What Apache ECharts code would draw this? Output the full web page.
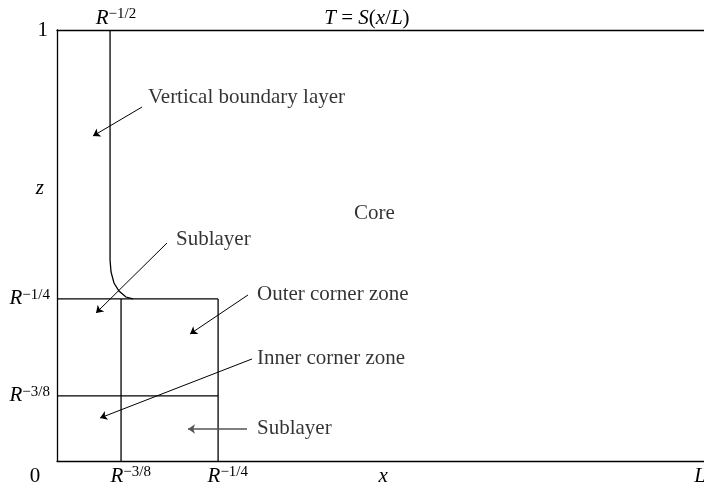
<!DOCTYPE html>
<html>
<head>
<meta charset="utf-8">
<title>Corner zones</title>
<script src="https://cdn.jsdelivr.net/npm/echarts@6.0.0/dist/echarts.min.js"></script>
<style>
  html, body { margin: 0; padding: 0; background: #fff; }
  #chart { width: 704px; height: 492px; }
</style>
</head>
<body>
<div id="chart"></div>
<script>
// x in units of L, z in units of the height (0..1)
const xR38 = 0.099;   // R^-3/8
const xR14 = 0.249;   // R^-1/4
const zR14 = 0.376;
const zR38 = 0.151;

// vertical boundary layer, bending into the corner
const boundaryLayer = [[0.082, 1], [0.082, 0.466], [0.0835, 0.4385], [0.0881, 0.413],
  [0.0958, 0.3944], [0.1066, 0.3805], [0.1175, 0.376]];

// zone edges
const zoneEdges = [
  [[0, zR14], [xR14, zR14]],
  [[0, zR38], [xR14, zR38]],
  [[xR38, 0], [xR38, zR14]],
  [[xR14, 0], [xR14, zR14]]
];

// text notes: left edge / middle of text
const notes = [
  ['Vertical boundary layer', 0.1406, 0.8445],
  ['Core', 0.459, 0.5754],
  ['Sublayer', 0.1839, 0.5128],
  ['Outer corner zone', 0.3091, 0.3852],
  ['Inner corner zone', 0.3091, 0.2367],
  ['Sublayer', 0.3091, 0.0766]
];

// arrows: from -> to
const arrows = [
  [[0.1314, 0.8213], [0.0556, 0.7541]],
  [[0.170, 0.5058], [0.0603, 0.3434]],
  [[0.2952, 0.3852], [0.2056, 0.2947]],
  [[0.3014, 0.2367], [0.0665, 0.0998]]
];
const greyArrow = [[0.2937, 0.0742], [0.2025, 0.0742]];

// tick labels
const xLabelPos = [0, 0.114, 0.264, 0.504, 0.994];
const xLabelText = ['{z0|0}', '{r|R}{s|\u22123/8}', '{r|R}{s|\u22121/4}', '{r|x}', '{r|L}'];
const topLabelPos = [0.0912, 0.479];
const topLabelText = ['{r|R}{s|\u22121/2}', '{r|T}{n| = }{r|S}{n|(}{r|x}{n|/}{r|L}{n|)}'];
const yLabelPos = [0.151, 0.376, 0.633, 1];
const yLabelText = ['{r|R}{s|\u22123/8}', '{r|R}{s|\u22121/4}', '{zz|z}', '{one|1}'];

const serif = 'Liberation Serif';
const rich = {
  r: { fontFamily: serif, fontStyle: 'italic', fontSize: 21, lineHeight: 22, color: '#000' },
  n: { fontFamily: serif, fontSize: 21, lineHeight: 22, color: '#000' },
  s: { fontFamily: serif, fontSize: 15, lineHeight: 4, verticalAlign: 'top', color: '#000' },
  z0: { fontFamily: serif, fontSize: 21, lineHeight: 22, color: '#000', padding: [0, 44, 0, 0] },
  zz: { fontFamily: serif, fontStyle: 'italic', fontSize: 21, lineHeight: 22, color: '#000', padding: [0, 6, 0, 0] },
  one: { fontFamily: serif, fontSize: 21, lineHeight: 22, color: '#000', padding: [0, 2, 0, 0] }
};

function pick(pos, text) {
  return function (v) {
    for (let i = 0; i < pos.length; i++) {
      if (Math.abs(pos[i] - v) < 1e-6) return text[i];
    }
    return '';
  };
}

const chart = echarts.init(document.getElementById('chart'));

chart.setOption({
  animation: false,
  backgroundColor: '#fff',
  grid: { left: 57, right: 0, top: 30, bottom: 31, outerBoundsMode: 'none' },
  xAxis: [{
    type: 'value', min: 0, max: 1, position: 'bottom',
    splitLine: { show: false },
    axisTick: { show: false },
    axisLine: { lineStyle: { color: '#000', width: 1.3 } },
    axisLabel: { customValues: xLabelPos, formatter: pick(xLabelPos, xLabelText), rich: rich, margin: 4 }
  }, {
    type: 'value', min: 0, max: 1, position: 'top',
    splitLine: { show: false },
    axisTick: { show: false },
    axisLine: { lineStyle: { color: '#000', width: 1.3 } },
    axisLabel: { customValues: topLabelPos, formatter: pick(topLabelPos, topLabelText), rich: rich, margin: 1 }
  }],
  yAxis: {
    type: 'value', min: 0, max: 1,
    splitLine: { show: false },
    axisTick: { show: false },
    axisLine: { lineStyle: { color: '#000', width: 1.3 } },
    axisLabel: { customValues: yLabelPos, formatter: pick(yLabelPos, yLabelText), rich: rich, margin: 7 }
  },
  series: [{
    type: 'lines',
    coordinateSystem: 'cartesian2d',
    polyline: true,
    silent: true,
    lineStyle: { color: '#000', width: 1.3, opacity: 1 },
    data: [{ coords: boundaryLayer }].concat(zoneEdges.map(function (c) { return { coords: c }; }))
  }, {
    type: 'lines',
    coordinateSystem: 'cartesian2d',
    silent: true,
    symbol: ['none', 'arrow'],
    symbolSize: 7,
    lineStyle: { color: '#000', width: 1, opacity: 1 },
    data: arrows.map(function (c) { return { coords: c }; })
  }, {
    type: 'lines',
    coordinateSystem: 'cartesian2d',
    silent: true,
    symbol: ['none', 'arrow'],
    symbolSize: 7,
    lineStyle: { color: '#555', width: 1.5, opacity: 1 },
    data: [{ coords: greyArrow }]
  }, {
    type: 'scatter',
    silent: true,
    symbolSize: 0,
    data: notes.map(function (n) { return { name: n[0], value: [n[1], n[2]] }; }),
    label: {
      show: true, position: 'right', distance: 0,
      formatter: '{b}', fontFamily: serif, fontSize: 21, color: '#000'
    }
  }]
});
</script>
</body>
</html>
